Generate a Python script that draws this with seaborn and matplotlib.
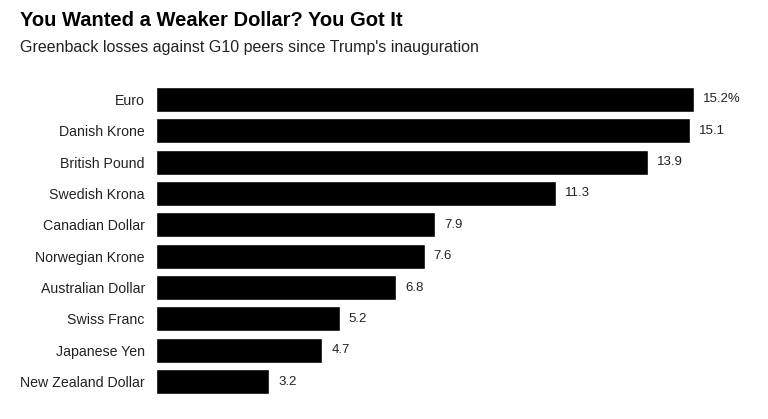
import matplotlib
matplotlib.use("Agg")
import matplotlib.pyplot as plt
import seaborn as sns
import pandas as pd

# data
currencies = ["Euro", "Danish Krone", "British Pound", "Swedish Krona",
              "Canadian Dollar", "Norwegian Krone", "Australian Dollar",
              "Swiss Franc", "Japanese Yen", "New Zealand Dollar"]
losses = [15.2, 15.1, 13.9, 11.3, 7.9, 7.6, 6.8, 5.2, 4.7, 3.2]
value_labels = ["15.2%", "15.1", "13.9", "11.3", "7.9", "7.6", "6.8", "5.2", "4.7", "3.2"]

df = pd.DataFrame({"currency": currencies, "loss": losses})

sns.set_style("white")
plt.rcParams["font.family"] = ["Liberation Sans", "DejaVu Sans"]

fig = plt.figure(figsize=(7.68, 4.19), dpi=100)
ax = fig.add_axes([0.203, 0.052, 0.76, 0.748])

sns.barplot(data=df, x="loss", y="currency", color="black", width=0.8,
            saturation=1, ax=ax)

for i, (v, lab) in enumerate(zip(losses, value_labels)):
    ax.annotate(lab, (v, i), xytext=(6.5, 0), textcoords="offset points",
                va="center", ha="left", fontsize=9.5, color="#222222")

ax.set_xlim(0, 16.5)
ax.set_ylim(9.5, -0.5)
ax.set_xlabel("")
ax.set_ylabel("")
ax.set_xticks([])
ax.tick_params(axis="y", length=0, pad=8, labelsize=10.2, labelcolor="#222222")
sns.despine(ax=ax, left=True, bottom=True)

fig.text(0.026, 0.950, "You Wanted a Weaker Dollar? You Got It",
         fontsize=14.5, fontweight="bold", va="center", ha="left", color="black")
fig.text(0.026, 0.886, "Greenback losses against G10 peers since Trump's inauguration",
         fontsize=11.5, va="center", ha="left", color="#222222")

fig.savefig("out.png", dpi=100)
